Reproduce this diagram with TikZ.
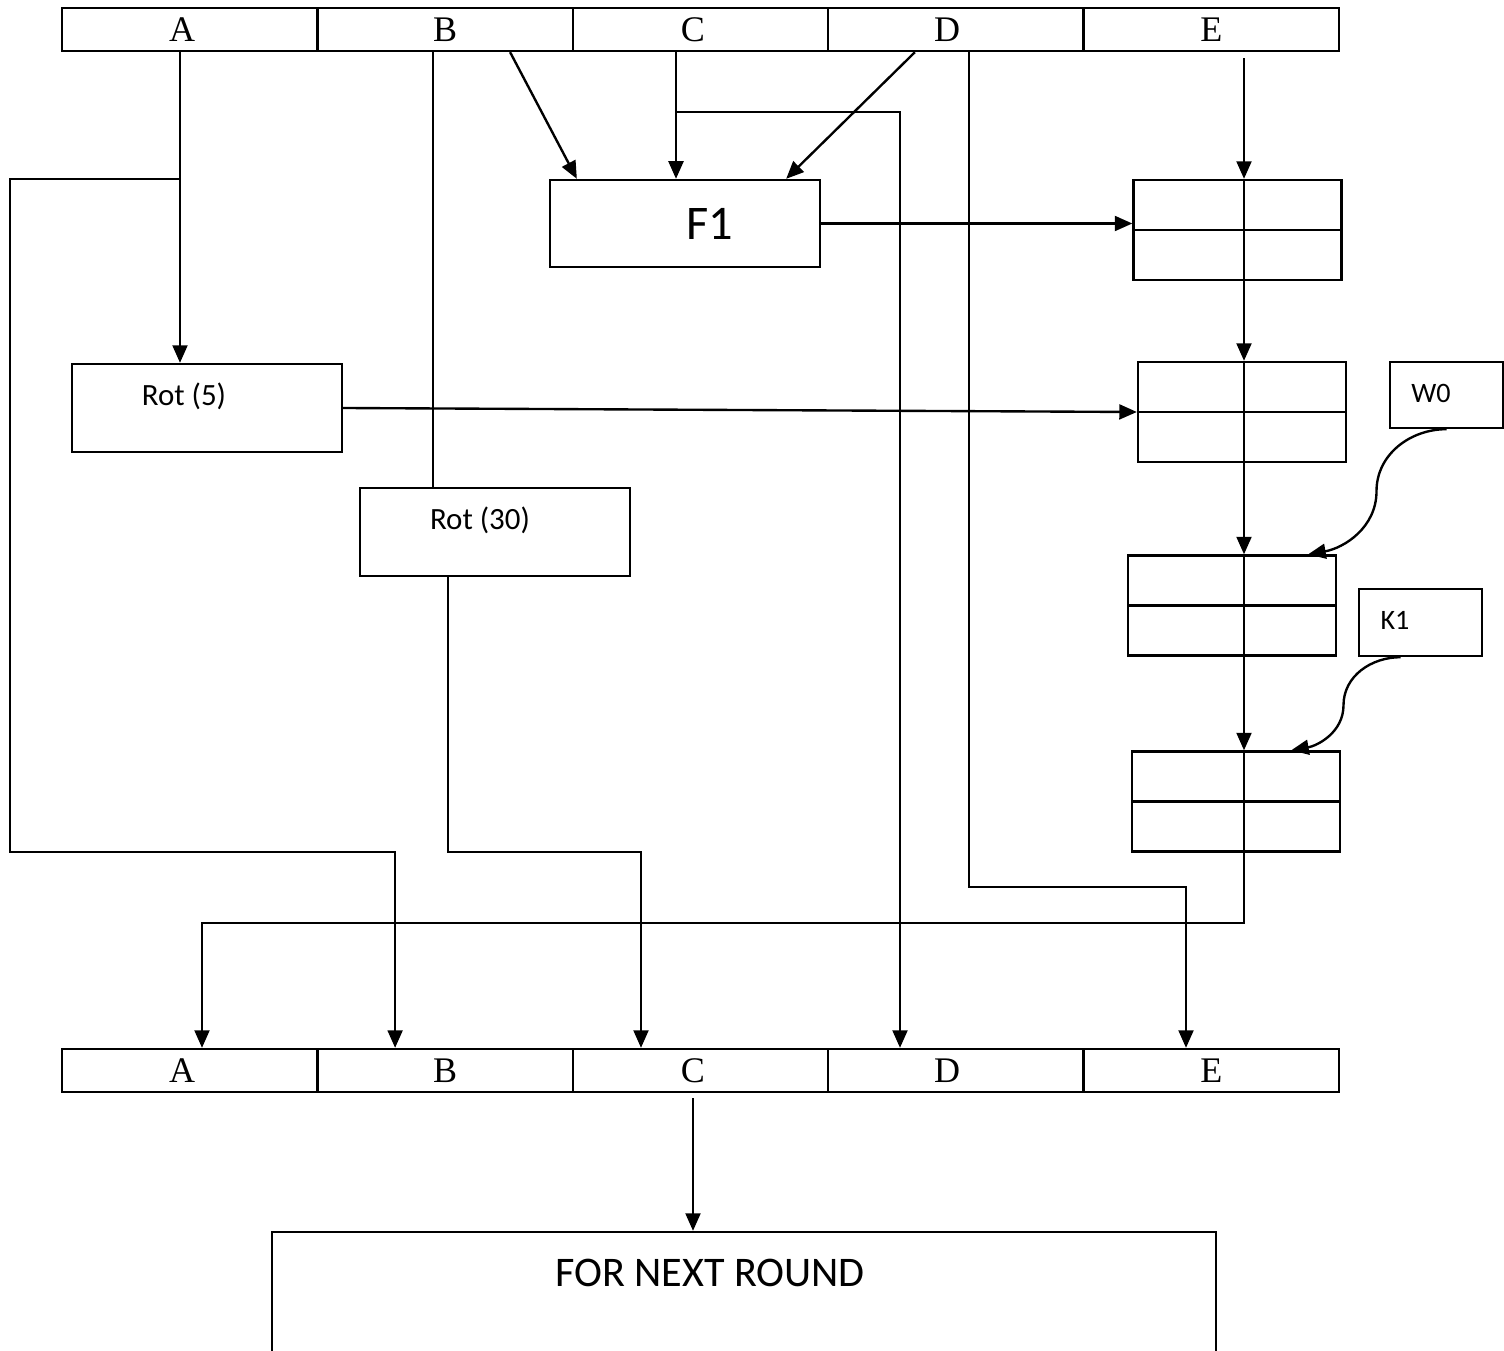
\documentclass[tikz,border=0pt]{standalone}
\usepackage{fontspec}
\setmainfont{Carlito}
\newfontfamily\tnrfont{Liberation Serif}
\usetikzlibrary{arrows.meta, calc}

\begin{document}
\begin{tikzpicture}[
  x=0.02cm, y=-0.02cm,
  line width=1.35pt,
  cell/.style={rectangle, draw, minimum width=5.108cm, minimum height=0.86cm, inner sep=0pt,
               font=\tnrfont\fontsize{20.5}{22}\selectfont},
  fbox/.style={rectangle, draw, minimum width=5.4cm, minimum height=1.74cm, inner sep=0pt,
               font=\fontsize{27.5}{30}\selectfont},
  rbox/.style={rectangle, draw, minimum width=5.4cm, minimum height=1.76cm, inner sep=0pt},
  rlbl/.style={font=\fontsize{17.6}{20}\selectfont},
  gbox/.style={rectangle, draw, minimum width=4.16cm, minimum height=2cm, inner sep=0pt,
               path picture={\draw (path picture bounding box.west) -- (path picture bounding box.east);}},
  kbox/.style={rectangle, draw, inner sep=0pt},
  klbl/.style={font=\fontsize{16}{18}\selectfont},
  nbox/.style={rectangle, draw, minimum width=18.88cm, minimum height=3.36cm, inner sep=0pt},
  fl/.style={-{Triangle[length=10pt, width=8.5pt]}},
]
\useasboundingbox (0,0) rectangle (1504,1351);
% --- registers A..E, this round and next round ---
\foreach \l/\dx [count=\i] in {A/-0.3,B/0,C/-0.3,D/-0.35,E/0} {
  \node[cell, text width=5.108cm, align=center] (t\l) at ({189.7+(\i-1)*255.4}, 29.5) {\hspace*{\dx cm}\l};
  \node[cell, text width=5.108cm, align=center] (b\l) at ({189.7+(\i-1)*255.4}, 1070.5) {\hspace*{\dx cm}\l};
}
% --- function and rotations ---
\node[fbox] (F1) at (685,223.5) {\hspace*{1cm}F1};
\node[rbox, label={[rlbl, xshift=-0.46cm, yshift=0.24cm]center:Rot (5)}] (r5) at (207,408) {};
\node[rbox, label={[rlbl, xshift=-0.3cm, yshift=0.24cm]center:Rot (30)}] (r30) at (495,532) {};
% --- adders on the E column ---
\node[gbox] (G1) at (1237.5,230) {};
\node[gbox] (G2) at (1242,412) {};
\node[gbox] (G3) at (1232,605.5) {};
\node[gbox] (G4) at (1236,801.5) {};
\node[kbox, minimum width=2.26cm, minimum height=1.32cm,
      label={[klbl, xshift=-0.31cm, yshift=0.04cm]center:W0}] (W0) at (1446.5,395) {};
\node[kbox, minimum width=2.46cm, minimum height=1.34cm,
      label={[klbl, xshift=-0.51cm, yshift=0.05cm]center:K1}] (K1) at (1420.5,622.5) {};
% --- next round box (open at the bottom edge) ---
\node[nbox, label={[font=\fontsize{24}{26}\selectfont, xshift=-0.68cm, yshift=0.86cm]center:FOR NEXT ROUND}]
  (next) at (744,1316) {};
% routing points
\coordinate (xA) at (180,0);
\coordinate (xAL) at (10,852);
\coordinate (xB) at (433,0);
\coordinate (xBr) at (448,852);
\coordinate (xC) at (676,112);
\coordinate (xCD) at (900,112);
\coordinate (xD) at (969,887);
\coordinate (xG) at (1244,923);
\coordinate (xN) at (693,0);
% A
\draw[fl] (xA |- tA.south) -- (xA |- r5.north);
\draw[fl] (xA |- F1.north) -| (xAL) -| ($(bB.north)+(-50,0)$);
% B
\draw (xB |- tB.south) -- (xB |- r30.north);
\draw[fl] (xBr |- r30.south) -- (xBr) -| ($(bC.north)+(-59.5,0)$);
\draw[fl] ($(tB.south)+(65,0)$) -- ($(F1.north west)+(28,0)$);
% C
\draw[fl] (xC |- tC.south) -- (xC |- F1.north);
\draw[fl] (xC) -- (xCD) -- (xCD |- bD.north);
% D
\draw[fl] ($(tD.south)+(-41,0)$) -- ($(F1.north east)+(-35,0)$);
\draw[fl] (xD |- tD.south) -- (xD) -| ($(bE.north)+(-25.3,0)$);
% E and the adder chain
\draw[fl] (xG |- tE.south) ++(0,6) -- (xG |- G1.north);
\draw[fl] (F1.east) -- (F1.east -| G1.west);
\draw[fl] (xG |- G1.north) -- (xG |- G2.north);
\draw[fl] (r5.east) -- (G2.west);
\draw[fl] (xG |- G2.north) -- (xG |- G3.north);
\draw[fl] (W0.south) to[out=180, in=90] ++(-70,62) to[out=-90, in=10] ($(G3.north east)+(-29,0)$);
\draw[fl] (xG |- G3.north) -- (xG |- G4.north);
\draw[fl] ($(K1.south)+(-20,0)$) to[out=180, in=90] ++(-57,48) to[out=-90, in=10] ($(G4.north east)+(-50,0)$);
\draw[fl] (xG |- G4.north) -- (xG) -| ($(bA.north)+(12.3,0)$);
% to next round
\draw[fl] (xN |- bC.south) ++(0,5) -- (xN |- next.north);
\end{tikzpicture}
\end{document}
